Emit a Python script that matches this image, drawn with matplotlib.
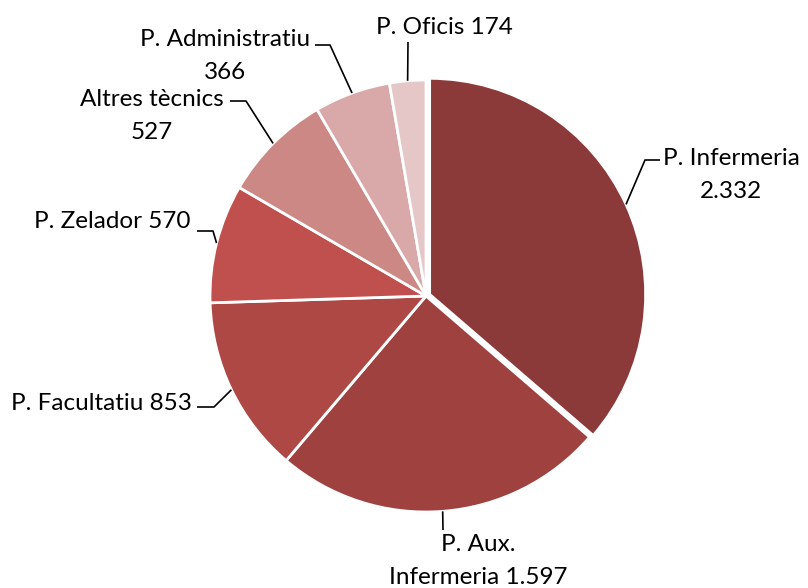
import matplotlib
matplotlib.use("Agg")
import matplotlib.pyplot as plt
import numpy as np

labels = ["P. Infermeria\n2.332", "P. Aux.\nInfermeria 1.597", "P. Facultatiu 853",
          "P. Zelador 570", "Altres tècnics\n527", "P. Administratiu\n366", "P. Oficis 174"]
values = [2332, 1597, 853, 570, 527, 366, 174]
colors = ["#8B3A39", "#9E413F", "#AE4845", "#C0504D", "#CC8885", "#D9A9A9", "#E5C7C8"]

W, H = 808, 588
fig = plt.figure(figsize=(W/100, H/100), dpi=100)
ax = fig.add_axes([0, 0, 1, 1])

def py(y):
    return H - y

cx, cy, R = 426, py(296), 216
explode = [4, 0, 0, 0, 0, 0, 0]  # offsets in pixel units (data units here)
wedges, _ = ax.pie(values, colors=colors, startangle=90, counterclock=False,
                   explode=explode, center=(cx, cy), radius=R, frame=True,
                   wedgeprops=dict(edgecolor="white", linewidth=2.0))
ax.set_xlim(0, W)
ax.set_ylim(0, H)
ax.set_aspect("equal")
ax.axis("off")

font = dict(family=["Lato", "DejaVu Sans"], fontsize=17.5, color="#000000")

# layout: (elbow, end, text_xy, ha) ; text y is block centre
layout = [
    ((645, 160), (660, 160), (663, 175), "left"),
    (None, (443, 530), (478, 561), "center"),
    ((214, 407), (197, 407), (192, 403), "right"),
    ((213, 231), (197, 231), (191, 222), "right"),
    ((246, 101), (230, 101), (152, 116), "center"),
    ((330, 45), (315, 45), (225, 56), "center"),
    (None, (408, 42), (444, 28), "center"),
]

for w, lab, (elbow, end, txy, ha) in zip(wedges, labels, layout):
    ang = np.deg2rad((w.theta1 + w.theta2) / 2)
    wc = w.center
    ax0 = wc[0] + R * np.cos(ang)
    ay0 = wc[1] + R * np.sin(ang)
    xs = [ax0]
    ys = [ay0]
    if elbow is not None:
        xs.append(elbow[0]); ys.append(py(elbow[1]))
    xs.append(end[0]); ys.append(py(end[1]))
    ax.plot(xs, ys, color="black", linewidth=1.2, solid_capstyle="butt")
    ax.text(txy[0], py(txy[1]), lab, ha=ha, va="center", multialignment="center",
            linespacing=1.66, **font)

fig.savefig("out.png", dpi=100)
